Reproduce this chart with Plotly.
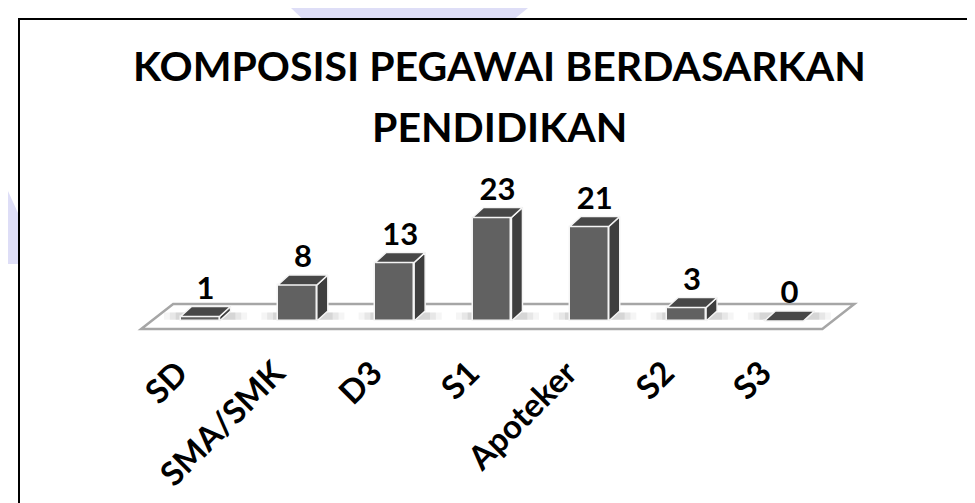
import plotly.graph_objects as go

categories = ["SD", "SMA/SMK", "D3", "S1", "Apoteker", "S2", "S3"]
values = [1, 8, 13, 23, 21, 3, 0]
title_lines = ["KOMPOSISI PEGAWAI BERDASARKAN", "PENDIDIKAN"]

W, H = 975, 503
PH = 326                     # plot area height in px (top margin 0)
MB = H - PH                  # bottom margin (room for tick labels)
PX_X = 97.31                 # px per category
PX_Y = 4.5                   # px per value unit
X_LEFT_PX = 143.4            # pixel of x=-0.5
BASE_PX = 313                # pixel row of value 0

n = len(categories)
x0 = -0.5 - X_LEFT_PX / PX_X
x1 = x0 + W / PX_X
y_top = BASE_PX / PX_Y
y_bot = -(PH - BASE_PX) / PX_Y

bw = 0.40                    # bar width (category units)
ddx = 11 / PX_X              # depth offset x
ddy = 10 / PX_Y              # depth offset y

FRONT = "#616161"
SIDE = "#3e3e3e"
TOP = "#474747"
EDGE = "rgba(245,245,245,1)"


def poly(xs, ys):
    pts = [f"{x},{y}" for x, y in zip(xs, ys)]
    return "M " + " L ".join(pts) + " Z"


def px2paper_y(py):
    return (PH - py) / PH


shapes = [
    # watermark shapes
    dict(type="path", xref="paper", yref="paper", layer="below",
         path=f"M {283/W} {px2paper_y(0)} L {520/W} {px2paper_y(0)} L {507/W} {px2paper_y(10.5)} L {294/W} {px2paper_y(10.5)} Z",
         fillcolor="#dedef7", line=dict(width=0)),
    dict(type="path", xref="paper", yref="paper", layer="below",
         path=f"M 0 {px2paper_y(183)} L {10/W} {px2paper_y(205)} L {10/W} {px2paper_y(256)} L 0 {px2paper_y(256)} Z",
         fillcolor="#dedef7", line=dict(width=0)),
]

# floor
f_front = -8 / PX_Y
f_back = 17 / PX_Y
slope = 1.28 / PX_X * PX_Y    # x units per y unit on the floor
shapes.append(dict(
    type="path", xref="x", yref="y", layer="below",
    path=poly([-0.5 + f_front * slope, n - 0.5 + f_front * slope,
               n - 0.5 + f_back * slope, -0.5 + f_back * slope],
              [f_front, f_front, f_back, f_back]),
    fillcolor="#ffffff", line=dict(color="#a6a6a6", width=2.5)))

# soft shadows on the floor
for i, v in enumerate(values):
    for grow, op in [(0.17, 0.07), (0.11, 0.10), (0.05, 0.14)]:
        shapes.append(dict(
            type="path", xref="x", yref="y", layer="below",
            path=poly([i - bw / 2 - grow, i + bw / 2 + grow + ddx,
                       i + bw / 2 + grow + ddx, i - bw / 2 - grow],
                      [0.3, 0.3, ddy * 0.85, ddy * 0.85]),
            fillcolor=f"rgba(110,110,110,{op})", line=dict(width=0)))

fig = go.Figure()

# front faces
fig.add_trace(go.Bar(
    x=list(range(n)), y=values, width=bw,
    marker=dict(color=FRONT, line=dict(color=EDGE, width=1.5)),
    hoverinfo="skip", showlegend=False))

# side faces
for i, v in enumerate(values):
    xr = i + bw / 2
    fig.add_trace(go.Scatter(
        x=[xr, xr, xr + ddx, xr + ddx, xr], y=[0, v, v + ddy, ddy, 0],
        mode="lines", fill="toself", fillcolor=SIDE,
        line=dict(color=EDGE, width=1.5), hoverinfo="skip", showlegend=False))

# top faces
for i, v in enumerate(values):
    xl, xr = i - bw / 2, i + bw / 2
    fig.add_trace(go.Scatter(
        x=[xl, xr, xr + ddx, xl + ddx, xl], y=[v, v, v + ddy, v + ddy, v],
        mode="lines", fill="toself", fillcolor=TOP,
        line=dict(color=EDGE, width=1.5), hoverinfo="skip", showlegend=False))

# data labels
fig.add_trace(go.Scatter(
    x=[i + ddx / 2 for i in range(n)], y=[v + ddy for v in values],
    mode="text", text=[f"<b>{v}</b>" for v in values], textposition="top center",
    textfont=dict(family="Lato", size=31, color="#000000"),
    hoverinfo="skip", showlegend=False, cliponaxis=False))

# chart frame
shapes.append(dict(type="rect", xref="paper", yref="paper", layer="above",
                   x0=11 / W, x1=963 / W, y0=px2paper_y(520), y1=px2paper_y(11),
                   line=dict(color="#000000", width=2), fillcolor="rgba(0,0,0,0)"))

annotations = [
    dict(text=f"<b>{title_lines[0]}</b>", xref="paper", yref="paper",
         x=491 / W, y=px2paper_y(58), xanchor="center", yanchor="middle",
         showarrow=False, font=dict(family="Lato", size=41, color="#000000")),
    dict(text=f"<b>{title_lines[1]}</b>", xref="paper", yref="paper",
         x=491 / W, y=px2paper_y(118), xanchor="center", yanchor="middle",
         showarrow=False, font=dict(family="Lato", size=41, color="#000000")),
]

fig.update_layout(
    width=W, height=H,
    margin=dict(l=0, r=0, t=0, b=MB, pad=0),
    paper_bgcolor="#ffffff", plot_bgcolor="rgba(0,0,0,0)",
    shapes=shapes, annotations=annotations,
    bargap=0,
    xaxis=dict(range=[x0, x1], tickmode="array", tickvals=list(range(n)),
               ticktext=[f"<b>{c}</b>" for c in categories], tickangle=-45,
               tickfont=dict(family="Lato", size=33, color="#000000"),
               ticklabelshift=-22, ticklabelstandoff=12,
               showgrid=False, zeroline=False, showline=False, ticks="",
               fixedrange=True),
    yaxis=dict(range=[y_bot, y_top], visible=False, showgrid=False,
               zeroline=False, fixedrange=True),
    font=dict(family="Lato"),
)

fig.write_html("out.html")
